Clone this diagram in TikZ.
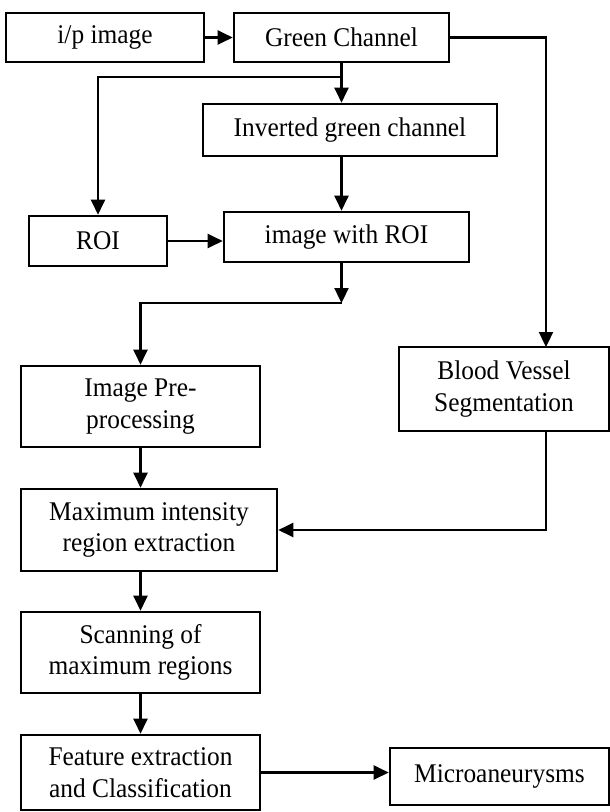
\documentclass[tikz,border=0pt]{standalone}
\usepackage{fontspec}
\setmainfont{Liberation Serif}[FakeStretch=0.94]
\usetikzlibrary{arrows.meta,calc}
\begin{document}
\begin{tikzpicture}[x=1pt,y=-1pt,
  box/.style={draw=black,line width=2.6pt,rectangle,inner sep=0pt,align=center,
    font=\fontsize{27}{31.5}\selectfont},
  arr/.style={line width=2.3pt,-{Triangle[length=15pt,width=14pt]}},
  ln/.style={line width=2.3pt}]
\useasboundingbox (0,0) rectangle (610,812);
\node[box,minimum width=198pt,minimum height=49pt] (ip) at (105,37.5) {i/p image};
\node[box,minimum width=215pt,minimum height=49pt] (green) at (341.5,37.5) {Green Channel};
\node[box,minimum width=294pt,minimum height=52pt] (inv) at (350,130) {Inverted green channel};
\node[box,minimum width=138pt,minimum height=50pt] (roi) at (98,241) {ROI};
\node[box,minimum width=245pt,minimum height=50pt] (iroi) at (346.5,237) {image with ROI};
\node[box,minimum width=239pt,minimum height=81pt] (pre) at (140.5,406.5) {Image Pre-\\processing};
\node[box,minimum width=210pt,minimum height=84pt] (bv) at (504,389) {Blood Vessel\\Segmentation};
\node[box,minimum width=256pt,minimum height=82pt] (max) at (149,530) {Maximum intensity\\region extraction};
\node[box,minimum width=239pt,minimum height=81pt] (scan) at (140.5,652.5) {Scanning of\\maximum regions};
\node[box,minimum width=239pt,minimum height=75pt] (feat) at (140.5,772.5) {Feature extraction\\and Classification};
\node[box,minimum width=219pt,minimum height=57pt] (micro) at (499.5,776.5) {Microaneurysms};
\coordinate (bvin) at (546,347);
\coordinate (br) at (341.5,77);
\coordinate (j2) at (341.5,303);
\draw[arr] (ip.east) -- (green.west);
\draw[arr] (green.east) -| (bvin);
\draw[arr] (green.south) -- (green.south |- inv.north);
\draw[arr] (br) -| (roi.north);
\draw[arr] (green.south |- inv.south) -- (green.south |- iroi.north);
\draw[arr] (roi.east) -- (roi.east -| iroi.west);
\draw[arr] (green.south |- iroi.south) -- (j2);
\draw[arr] (j2) -| (pre.north);
\draw[arr] (pre.south) -- (pre.south |- max.north);
\draw[arr] (pre.south |- max.south) -- (scan.north);
\draw[arr] (scan.south) -- (feat.north);
\draw[arr] (bvin |- bv.south) |- (max.east);
\draw[arr] (feat.east) -- (feat.east -| micro.west);
\end{tikzpicture}
\end{document}
